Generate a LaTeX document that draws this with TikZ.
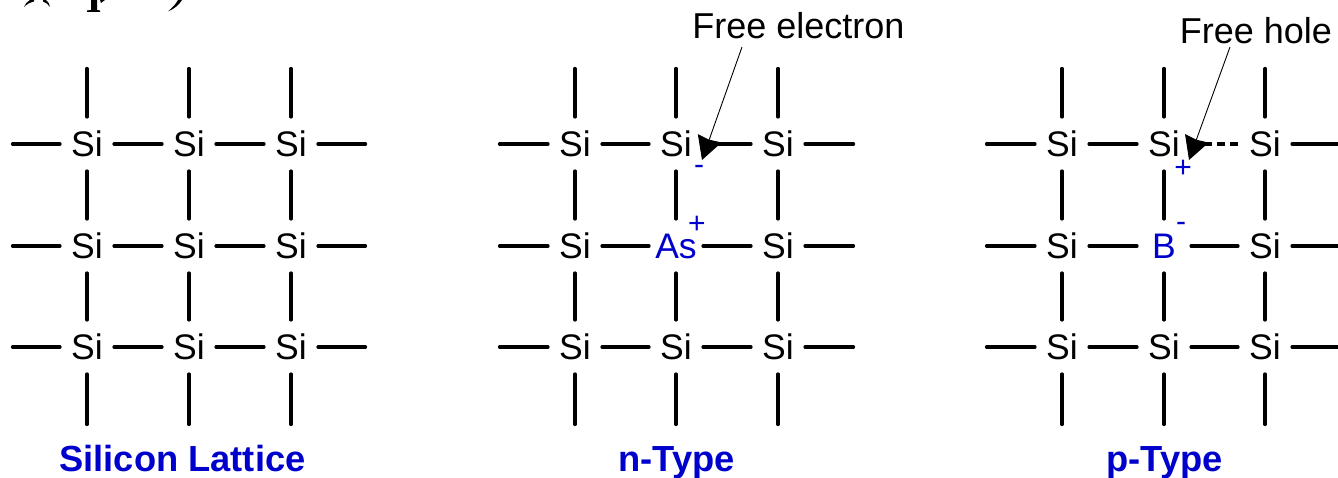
\documentclass[tikz,border=0pt]{standalone}
\usepackage{fontspec}
\setmainfont{Liberation Sans}
\usetikzlibrary{arrows.meta}
\definecolor{lblue}{RGB}{0,0,205}
\newcommand{\sifont}{\fontsize{35.5}{36}\selectfont}
\tikzset{
  x=1pt,y=-1pt,
  atom/.style={rectangle,minimum width=54pt,minimum height=54pt,inner sep=0pt,outer sep=0pt,text=black,font=\sifont},
  dopant/.style={atom,text=lblue},
  bond/.style={line width=3.2pt,black,line cap=round},
  holebond/.style={line width=3.2pt,black,dash pattern=on 8pt off 5pt},
  title/.style={font=\fontsize{36.3}{37}\selectfont\bfseries,text=lblue,inner sep=0pt,anchor=base},
  callout/.style={font=\fontsize{36}{37}\selectfont,inner sep=0pt,text=black},
  charge/.style={font=\fontsize{30}{30}\selectfont,text=lblue,inner sep=0pt},
  pointer/.style={line width=0.9pt,black,-{Stealth[length=23pt,width=25pt,inset=1.5pt]}},
  scrap/.style={fill=black,draw=none},
}
\begin{document}
\begin{tikzpicture}
\useasboundingbox (0,0) rectangle (1338,478);
% ---------- cut-off text at the top edge
\fill[scrap] (30,0) .. controls (27,2) and (25,4) .. (24,7) .. controls (27,4) and (30,2.5) .. (34,1.5) -- (34,0) -- cycle;
\fill[scrap] (43,0) -- (43,1.5) .. controls (46,2.5) and (48,4) .. (50,7) .. controls (50,4) and (48,2) .. (46,0) -- cycle;
\fill[scrap] (91,0) -- (97,0) -- (97,10) -- (100,10.5) -- (100,12) -- (87,12) -- (87,10.5) -- (91,10) -- cycle;
\fill[scrap] (100,0) -- (105,0) -- (101,3) -- cycle;
\fill[scrap] (178,0) -- (182,0) .. controls (179,5) and (174,9) .. (168,11.5) .. controls (172,8) and (176,4) .. (178,0) -- cycle;
% ---------- Silicon lattice
\foreach \c/\x in {a/87,b/189,c/291}{
  \foreach \r/\y in {1/144,2/246,3/347}{
    \node[atom] (A\c\r) at (\x,\y) {Si};
  }
  \coordinate (AT\c) at (\x,68.5);
  \coordinate (AB\c) at (\x,424.5);
  \draw[bond] (AT\c) -- (A\c1);
  \draw[bond] (A\c1) -- (A\c2);
  \draw[bond] (A\c2) -- (A\c3);
  \draw[bond] (A\c3) -- (AB\c);
}
\foreach \r/\y in {1/144,2/246,3/347}{
  \coordinate (AL\r) at (12.5,\y);
  \coordinate (AR\r) at (365.5,\y);
  \draw[bond] (AL\r) -- (Aa\r);
  \draw[bond] (Aa\r) -- (Ab\r);
  \draw[bond] (Ab\r) -- (Ac\r);
  \draw[bond] (Ac\r) -- (AR\r);
}
\node[title] (Atitle) at (182.5,471) {Silicon Lattice};
% ---------- n-type
\foreach \c/\x in {a/575,b/676,c/778}{
  \foreach \r/\y in {1/144,2/246,3/347}{
    \ifnum\pdfstrcmp{\c\r}{b2}=0
      \node[dopant] (N\c\r) at (\x,\y) {As};
    \else
      \node[atom] (N\c\r) at (\x,\y) {Si};
    \fi
  }
  \coordinate (NT\c) at (\x,68.5);
  \coordinate (NB\c) at (\x,424.5);
  \draw[bond] (NT\c) -- (N\c1);
  \draw[bond] (N\c1) -- (N\c2);
  \draw[bond] (N\c2) -- (N\c3);
  \draw[bond] (N\c3) -- (NB\c);
}
\foreach \r/\y in {1/144,2/246,3/347}{
  \coordinate (NL\r) at (499.5,\y);
  \coordinate (NR\r) at (853.5,\y);
  \draw[bond] (NL\r) -- (Na\r);
  \draw[bond] (Na\r) -- (Nb\r);
  \draw[bond] (Nb\r) -- (Nc\r);
  \draw[bond] (Nc\r) -- (NR\r);
}
\node[title] (Ntitle) at (676.5,471) {n-Type};
\node[callout] (Nfree) at (798.5,26) {Free electron};
\node[charge] (Nminus) at (699,170) {-};
\node[charge] (Nplus) at (697,225) {+};
\coordinate (Npoint) at (702,160);
\coordinate (Nstart) at (742,47);
\draw[pointer] (Nstart) -- (Npoint);
% ---------- p-type
\foreach \c/\x in {a/1062,b/1164,c/1265}{
  \foreach \r/\y in {1/144,2/246,3/347}{
    \ifnum\pdfstrcmp{\c\r}{b2}=0
      \node[dopant] (P\c\r) at (\x,\y) {B};
    \else
      \node[atom] (P\c\r) at (\x,\y) {Si};
    \fi
  }
  \coordinate (PT\c) at (\x,68.5);
  \coordinate (PB\c) at (\x,424.5);
  \draw[bond] (PT\c) -- (P\c1);
  \draw[bond] (P\c1) -- (P\c2);
  \draw[bond] (P\c2) -- (P\c3);
  \draw[bond] (P\c3) -- (PB\c);
}
\foreach \r/\y in {1/144,2/246,3/347}{
  \coordinate (PL\r) at (986.5,\y);
  \coordinate (PR\r) at (1340,\y);
  \draw[bond] (PL\r) -- (Pa\r);
  \draw[bond] (Pa\r) -- (Pb\r);
  \draw[bond] (Pc\r) -- (PR\r);
}
\draw[holebond] (Pc1) -- (Pb1);
\draw[bond] (Pb2) -- (Pc2);
\draw[bond] (Pb3) -- (Pc3);
\node[title] (Ptitle) at (1164.5,471) {p-Type};
\node[callout] (Pfree) at (1256,31) {Free hole};
\node[charge] (Pplus) at (1183,169) {+};
\node[charge] (Pminus) at (1181,227) {-};
\coordinate (Ppoint) at (1189,160);
\coordinate (Pstart) at (1230,47);
\draw[pointer] (Pstart) -- (Ppoint);
\end{tikzpicture}
\end{document}
